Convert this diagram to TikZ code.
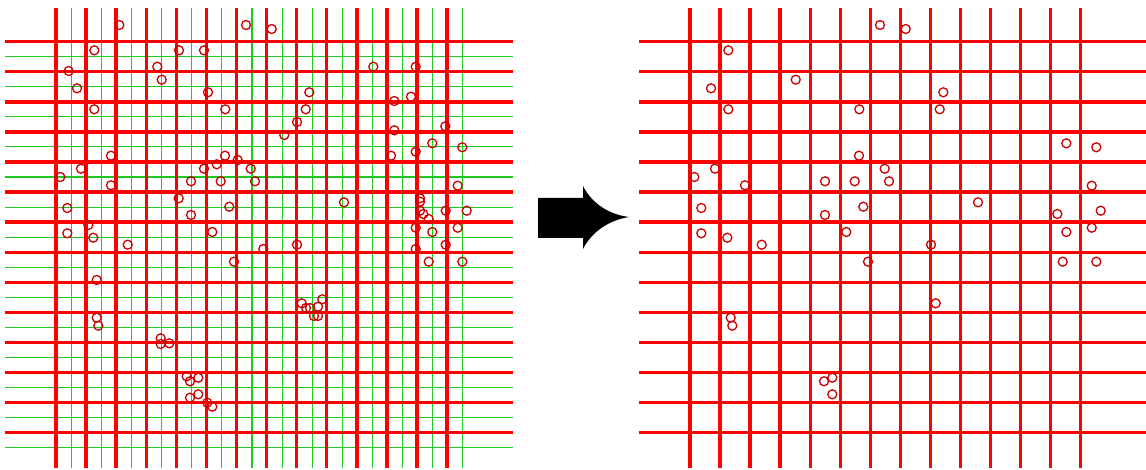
\documentclass[tikz,border=0pt]{standalone}
\definecolor{gridgreen}{RGB}{30,200,30}
\definecolor{ringred}{RGB}{204,0,0}
% circles that stay after the step (left coordinates)
\def\keptpts{246/25,271.7/29,94.3/50.3,161.7/79.7,77/88.3,309.3/92.3,94.3/109.3,225.3/109.3,305.7/109.3,
432.3/143.3,462.3/147.3,225/155.7,250.7/168.7,81/168.7,60.3/177,191/181.3,220.7/181.3,255/181.3,111/185.3,
457.7/185.7,344/202.3,67.3/208,229.3/206.7,191/215,423.3/214,466.7/210.7,67.3/233.3,212.3/232,432.3/232,
457.7/227.7,93.3/237.7,127.7/244.7,297/244.7,234/261.7,428.7/261.7,462.3/261.7,301.7/303.3,96.7/317.7,
98.3/325.7,190/381.3,198.3/377.7,198.3/394.3}
% circles that are dropped
\def\droppedpts{119.3/25,179/50.3,204/50.3,68.7/71,157.3/66.7,373.3/66.7,415.7/66.7,208/92.3,394.3/101,
411/96.7,297/122,284.3/135,394.3/130.3,445.3/126.3,111/155.7,237.7/160,216.7/164.3,204/168.7,391/155.7,
415.7/151.7,178.7/198.3,420/198.3,420/201.7,420/210.7,428.7/219,445.7/210.7,88.3/225,415.7/227.7,
263.3/249,445.7/244.7,415.7/249,96.7/280,306/308,310/308,318/306.7,322.3/299.3,314/316,318/316,
160.7/338.3,160.7/344,169.3/343.3,186.7/376.3,190/397.7,207.3/402.7,212.3/406.7}
\begin{document}
\begin{tikzpicture}[x=1pt,y=-1pt,
	redline/.style={red,line width=3.4pt},
	greenline/.style={gridgreen,line width=1.1pt},
	ring/.style={ringred,line width=1.3pt}]
	\useasboundingbox (0,0) rectangle (1146,470);
	% left grid: fine lines, then coarse lines
	\foreach \k in {0,...,13}{
		\draw[greenline] (5,{56.7+30.08*\k}) -- (513,{56.7+30.08*\k});
		\draw[greenline] ({71.5+30.08*\k},8) -- ({71.5+30.08*\k},468);
	}
	\foreach \k in {0,...,13}{
		\draw[redline] (5,{41.7+30.08*\k}) -- (513,{41.7+30.08*\k});
		\draw[redline] ({56+30.08*\k},8) -- ({56+30.08*\k},468);
	}
	\foreach \cx/\cy in \droppedpts \draw[ring] (\cx,\cy) circle (4.5pt);
	\foreach \cx/\cy in \keptpts \draw[ring] (\cx,\cy) circle (4.5pt);

	% arrow
	\fill (538,198) -- (583,198) -- (583,186) .. controls (590,200) and (605,214) .. (629,217)
		.. controls (605,221) and (590,235) .. (583,249) -- (583,238) -- (538,238) -- cycle;

	% right grid: coarse lines only
	\foreach \k in {0,...,13}{
		\draw[redline] (639,{41.7+30.08*\k}) -- (1146,{41.7+30.08*\k});
		\draw[redline] ({690+30.05*\k},8) -- ({690+30.05*\k},468);
	}
	\foreach \cx/\cy in \keptpts \draw[ring] ({\cx+634},\cy) circle (4.5pt);
\end{tikzpicture}
\end{document}
